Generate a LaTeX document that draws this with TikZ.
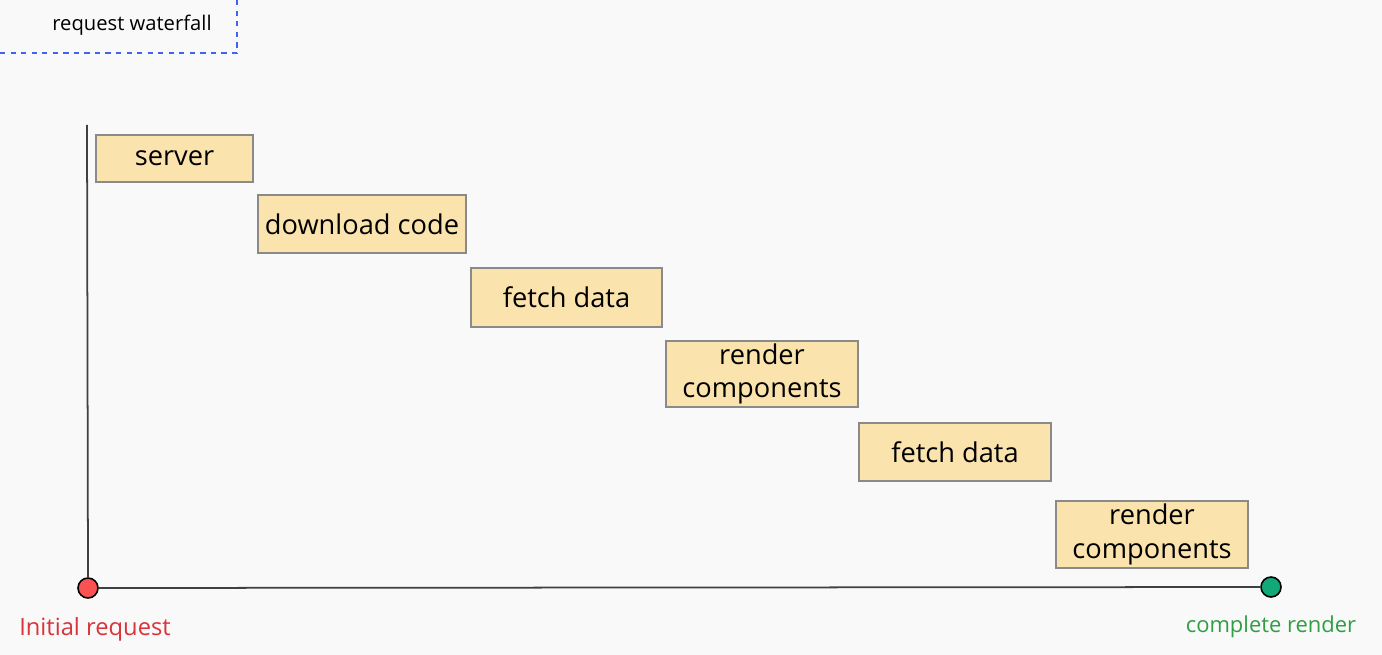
\documentclass[tikz,border=0pt]{standalone}
\usepackage{fontspec}
\setmainfont{Open Sans}
\usetikzlibrary{positioning}

\definecolor{hintergrund}{HTML}{F9F9F9}
\definecolor{balken}{HTML}{FBE3AE}
\definecolor{rahmen}{HTML}{8A8A8A}
\definecolor{rot}{HTML}{FA5252}
\definecolor{rottext}{HTML}{D9343A}
\definecolor{gruen}{HTML}{12A877}
\definecolor{gruentext}{HTML}{2F9E44}
\definecolor{blau}{HTML}{4263EB}

\tikzset{
    task/.style={draw=rahmen, fill=balken, line width=0.8pt, align=center,
                 inner sep=0pt, font=\fontsize{15.5}{19}\selectfont},
    punkt/.style={circle, draw=black, line width=0.9pt, minimum size=0.4cm, inner sep=0pt},
    achse/.style={draw=black!75, line width=1pt},
}

\begin{document}
\begin{tikzpicture}[x=0.02cm, y=-0.02cm]
                % Hintergrund
                \fill[hintergrund] (0,0) rectangle (1382,655);
                \useasboundingbox (0,0) rectangle (1382,655);

                % Titel
                \draw[blau, dashed, line width=0.9pt] (0,53) -| (237,0);
                \node[font=\fontsize{11.5}{14}\selectfont] (titel) at (132,25) {request waterfall};

                % Balken
                \node[task, minimum width=3.14cm, minimum height=0.94cm] (server) at (174.5,158.5) {server};
                \node[task, minimum width=4.16cm, minimum height=1.16cm] (download) at (362,224) {download code};
                \node[task, minimum width=3.82cm, minimum height=1.18cm] (fetchA) at (566.5,297.5) {fetch data};
                \node[task, minimum width=3.84cm, minimum height=1.32cm] (renderA) at (762,374) {render\\components};
                \node[task, minimum width=3.84cm, minimum height=1.16cm] (fetchB) at (955,452) {fetch data};
                \node[task, minimum width=3.84cm, minimum height=1.34cm] (renderB) at (1152,534.5) {render\\components};

                % Achsen
                \coordinate (oben) at (87,125);
                \node[punkt, fill=rot] (start) at (88,588) {};
                \node[punkt, fill=gruen] (ende) at (1271,587) {};
                \draw[achse] (oben) -- (start.north);
                \draw[achse] (start) -- (ende);

                % Beschriftung
                \node[text=rottext, font=\fontsize{13.5}{16}\selectfont, below=0.24cm of start, xshift=0.14cm] (startText) {Initial request};
                \node[text=gruentext, font=\fontsize{12.5}{15}\selectfont, below=0.24cm of ende] (endeText) {complete render};
            \end{tikzpicture}
\end{document}
